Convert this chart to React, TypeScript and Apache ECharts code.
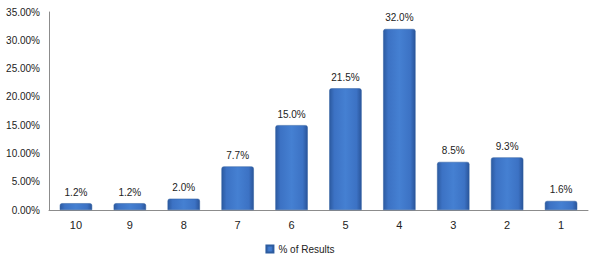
import React, { useEffect, useRef } from "react";
import * as echarts from "echarts";

const categories = ["10", "9", "8", "7", "6", "5", "4", "3", "2", "1"];
const percentResults = [1.2, 1.2, 2.0, 7.7, 15.0, 21.5, 32.0, 8.5, 9.3, 1.6];
const seriesName = "% of Results";

export default function App() {
  const ref = useRef<HTMLDivElement>(null);
  useEffect(() => {
    if (!ref.current) return;
    const chart = echarts.init(ref.current, null, { renderer: "svg" });
    const font = "'Liberation Sans', 'DejaVu Sans', sans-serif";
    chart.setOption({
      animation: false,
      textStyle: { fontFamily: font },
      grid: { left: 49, right: 12, top: 12, bottom: 55 },
      legend: {
        data: [seriesName],
        bottom: 6,
        left: "center",
        itemWidth: 7,
        itemHeight: 7,
        itemGap: 4,
        icon: "rect",
        textStyle: { fontSize: 10, color: "#222", fontFamily: font },
      },
      xAxis: {
        type: "category",
        data: categories,
        axisLine: { lineStyle: { color: "#8c8c8c" } },
        axisTick: { length: 4, lineStyle: { color: "#8c8c8c" } },
        axisLabel: { fontSize: 11, color: "#222", margin: 9 },
      },
      yAxis: {
        type: "value",
        min: 0,
        max: 35,
        interval: 5,
        axisLine: { show: true, lineStyle: { color: "#8c8c8c" } },
        axisTick: { show: false },
        splitLine: { show: false },
        axisLabel: {
          fontSize: 10,
          color: "#222",
          margin: 9,
          formatter: (v: number) => v.toFixed(2) + "%",
        },
      },
      series: [
        {
          name: seriesName,
          type: "bar",
          data: percentResults,
          barWidth: "60%",
          itemStyle: {
            color: new echarts.graphic.LinearGradient(0, 0, 1, 0, [
              { offset: 0, color: "#2c5aa0" },
              { offset: 0.15, color: "#3c72c4" },
              { offset: 0.5, color: "#4580d2" },
              { offset: 0.85, color: "#3c72c4" },
              { offset: 1, color: "#2a559a" },
            ]),
            borderRadius: [2, 2, 0, 0],
            borderColor: "#2d5c9f",
            borderWidth: 0.5,
          },
          label: {
            show: true,
            position: "top",
            distance: 6,
            fontSize: 10,
            color: "#222",
            formatter: (p: any) => Number(p.value).toFixed(1) + "%",
          },
        },
      ],
    });
    return () => chart.dispose();
  }, []);
  return <div ref={ref} style={{ width: 600, height: 265, position: "absolute", left: 0, top: 0, background: "#fff" }} />;
}
